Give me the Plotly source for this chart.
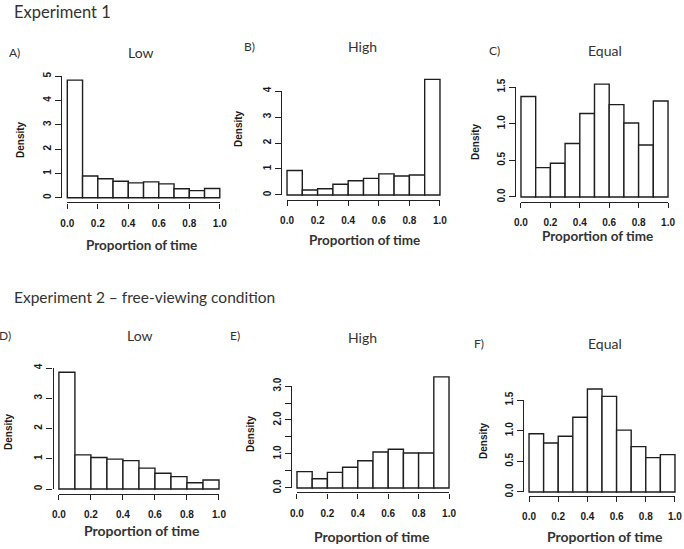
import plotly.graph_objects as go

# ---------------- data ----------------
bin_edges = [0.0, 0.1, 0.2, 0.3, 0.4, 0.5, 0.6, 0.7, 0.8, 0.9, 1.0]

exp1_low = [4.84, 0.89, 0.78, 0.68, 0.61, 0.65, 0.57, 0.37, 0.29, 0.38]
exp1_high = [0.94, 0.19, 0.24, 0.41, 0.55, 0.64, 0.81, 0.73, 0.77, 4.45]
exp1_equal = [1.37, 0.40, 0.46, 0.73, 1.14, 1.54, 1.26, 1.01, 0.71, 1.31]
exp2_low = [3.86, 1.13, 1.04, 0.99, 0.94, 0.69, 0.52, 0.41, 0.21, 0.30]
exp2_high = [0.48, 0.27, 0.46, 0.61, 0.80, 1.06, 1.14, 1.03, 1.03, 3.27]
exp2_equal = [0.95, 0.80, 0.91, 1.22, 1.68, 1.56, 1.01, 0.74, 0.56, 0.61]

x_tick_vals = [0.0, 0.2, 0.4, 0.6, 0.8, 1.0]
x_tick_text = ["0.0", "0.2", "0.4", "0.6", "0.8", "1.0"]

yticks_a = ([0, 1, 2, 3, 4, 5], ["0", "1", "2", "3", "4", "5"])
yticks_b = ([0, 1, 2, 3, 4], ["0", "1", "2", "3", "4"])
yticks_c = ([0.0, 0.5, 1.0, 1.5], ["0.0", "0.5", "1.0", "1.5"])
yticks_d = ([0, 1, 2, 3, 4], ["0", "1", "2", "3", "4"])
yticks_e = ([0.0, 0.5, 1.0, 1.5, 2.0, 2.5, 3.0], ["0.0", "", "1.0", "", "2.0", "", "3.0"])
yticks_f = ([0.0, 0.5, 1.0, 1.5], ["0.0", "0.5", "1.0", "1.5"])

panel_letters = ["A)", "B)", "C)", "D)", "E)", "F)"]
panel_titles = ["Low", "High", "Equal", "Low", "High", "Equal"]
section_titles = ["Experiment 1", "Experiment 2 \u2013 free-viewing condition"]
x_title = "Proportion of time"
y_title = "Density"

# ---------------- layout (pixels) ----------------
W, H = 684, 549
# plot region: left, right, bottom, top
regions = [
    (61.2, 225.9, 202.4, 75.4),
    (280.9, 446.1, 199.6, 74.7),
    (515.1, 673.9, 201.5, 79.6),
    (52.5, 225.4, 493.7, 367.6),
    (290.9, 455.1, 492.4, 372.4),
    (523.2, 680.8, 496.1, 384.9),
]
letter_pos = [(14, 53), (249, 47), (494, 51), (5, 335), (235, 335), (479, 343)]
title_pos = [(141, 52), (362, 47), (605, 51), (140, 335), (362, 337), (605, 343)]
xtitle_pos = [(141, 245), (365, 240), (597, 236), (142, 530), (372, 536), (605, 536)]
xtitle_size = [13.5, 13.5, 13.5, 14, 14, 14]
ytitle_pos = [(20, 140), (238, 129), (475, 142), (8, 432), (250, 434), (483, 441)]
section_pos = [(12, 12), (12, 297)]
section_size = [16.5, 15.5]

series = [exp1_low, exp1_high, exp1_equal, exp2_low, exp2_high, exp2_equal]
yticks = [yticks_a, yticks_b, yticks_c, yticks_d, yticks_e, yticks_f]

TEXT_FONT = "Lato, 'Open Sans', sans-serif"
TICK_FONT = "'Liberation Sans', Arial, sans-serif"
TEXT_COLOR = "#333333"

centers = [(bin_edges[i] + bin_edges[i + 1]) / 2 for i in range(len(bin_edges) - 1)]
widths = [bin_edges[i + 1] - bin_edges[i] for i in range(len(bin_edges) - 1)]

fig = go.Figure()
layout = dict(
    width=W, height=H, autosize=False,
    margin=dict(l=0, r=0, t=0, b=0),
    paper_bgcolor="white", plot_bgcolor="rgba(0,0,0,0)",
    showlegend=False,
)
annotations = []


def px_x(p):
    return p / W


def px_y(p):
    return 1 - p / H


for i, (vals, (tv, tt), reg) in enumerate(zip(series, yticks, regions)):
    left, right, bottom, top = reg
    m = max(vals)
    ylo, yhi = -0.04 * m, 1.04 * m
    xlo, xhi = -0.04, 1.04
    n_bar = i + 1
    n_ax = i + 7

    fig.add_trace(go.Bar(
        x=centers, y=vals, width=widths,
        marker=dict(color="white", line=dict(color="#1e1e1e", width=1.4)),
        xaxis=f"x{n_bar}", yaxis=f"y{n_bar}", hoverinfo="skip",
    ))
    layout[f"xaxis{n_bar}"] = dict(domain=[px_x(left), px_x(right)], range=[xlo, xhi],
                                   visible=False, anchor=f"y{n_bar}", fixedrange=True)
    layout[f"yaxis{n_bar}"] = dict(domain=[px_y(bottom), px_y(top)], range=[ylo, yhi],
                                   visible=False, anchor=f"x{n_bar}", fixedrange=True)

    def xmap(v, left=left, right=right):
        return left + (v - xlo) / (xhi - xlo) * (right - left)

    def ymap(v, bottom=bottom, top=top, ylo=ylo, yhi=yhi):
        return bottom - (v - ylo) / (yhi - ylo) * (bottom - top)

    x0p, x1p = xmap(x_tick_vals[0]), xmap(x_tick_vals[-1])
    y0p, y1p = ymap(tv[0]), ymap(tv[-1])

    fig.add_trace(go.Scatter(
        x=[x_tick_vals[0], x_tick_vals[-1]], y=[tv[0], tv[-1]], mode="markers",
        marker=dict(opacity=0), xaxis=f"x{n_ax}", yaxis=f"y{n_ax}", hoverinfo="skip",
    ))
    common = dict(showline=True, linecolor="#222222", linewidth=1.2, ticks="outside",
                  tickwidth=1.2, tickcolor="#222222", showgrid=False,
                  zeroline=False, fixedrange=True, automargin=False,
                  tickfont=dict(family=TICK_FONT, size=10, color="#1a1a1a", weight="bold"))
    layout[f"xaxis{n_ax}"] = dict(common, domain=[px_x(x0p), px_x(x1p)],
                                  range=[x_tick_vals[0], x_tick_vals[-1]],
                                  anchor="free", position=px_y(bottom), ticklen=5,
                                  tickmode="array", tickvals=x_tick_vals, ticktext=x_tick_text,
                                  ticklabelstandoff=6)
    layout[f"yaxis{n_ax}"] = dict(common, domain=[px_y(y0p), px_y(y1p)],
                                  range=[tv[0], tv[-1]],
                                  anchor="free", position=px_x(left), ticklen=6,
                                  tickmode="array", tickvals=tv, ticktext=tt,
                                  tickangle=-90, ticklabelstandoff=0)

    lx, ly = letter_pos[i]
    annotations.append(dict(text=panel_letters[i], x=px_x(lx), y=px_y(ly), xref="paper", yref="paper",
                            showarrow=False, xanchor="center", yanchor="middle",
                            font=dict(family=TEXT_FONT, size=12, color=TEXT_COLOR)))
    tx, ty = title_pos[i]
    annotations.append(dict(text=panel_titles[i], x=px_x(tx), y=px_y(ty), xref="paper", yref="paper",
                            showarrow=False, xanchor="center", yanchor="middle",
                            font=dict(family=TEXT_FONT, size=14, color=TEXT_COLOR)))
    xx, xy = xtitle_pos[i]
    annotations.append(dict(text=x_title, x=px_x(xx), y=px_y(xy), xref="paper", yref="paper",
                            showarrow=False, xanchor="center", yanchor="middle",
                            font=dict(family=TEXT_FONT, size=xtitle_size[i], color=TEXT_COLOR,
                                      weight="bold")))
    yx, yy = ytitle_pos[i]
    annotations.append(dict(text=y_title, x=px_x(yx), y=px_y(yy), xref="paper", yref="paper",
                            showarrow=False, xanchor="center", yanchor="middle", textangle=-90,
                            font=dict(family=TICK_FONT, size=10, color="#1a1a1a", weight="bold")))

for s, (sx, sy), fs in zip(section_titles, section_pos, section_size):
    annotations.append(dict(text=s, x=px_x(sx), y=px_y(sy), xref="paper", yref="paper",
                            showarrow=False, xanchor="left", yanchor="middle",
                            font=dict(family=TEXT_FONT, size=fs, color=TEXT_COLOR)))

layout["annotations"] = annotations
fig.update_layout(**layout)
fig.write_html("out.html", config={"displayModeBar": False},
               post_script="document.body.style.margin='0';document.body.style.padding='0';")
